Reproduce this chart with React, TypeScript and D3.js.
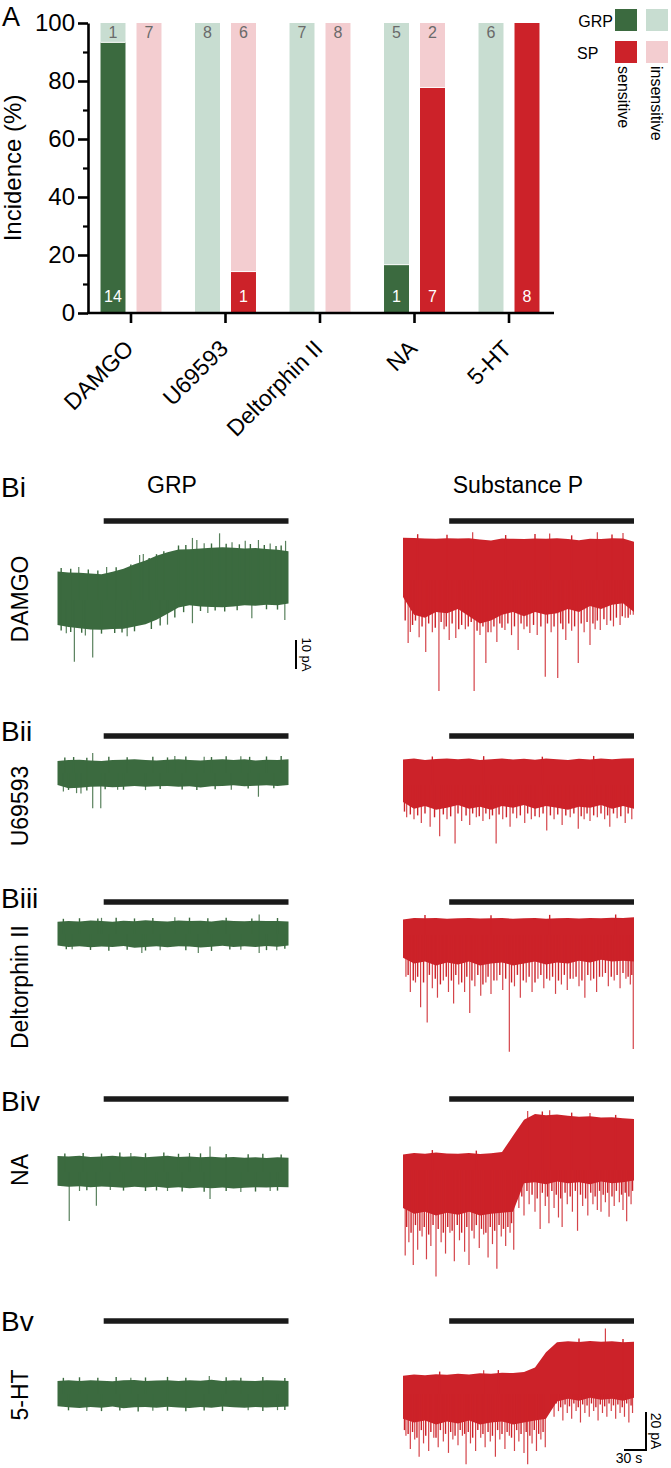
import React, { useEffect, useRef } from 'react';
import * as d3 from 'd3';

// ---- Panel A: incidence counts ----
const categories = ['DAMGO', 'U69593', 'Deltorphin II', 'NA', '5-HT'];
const grpSensitive = [14, 0, 0, 1, 0];
const grpInsensitive = [1, 8, 7, 5, 6];
const spSensitive = [0, 1, 0, 7, 8];
const spInsensitive = [7, 6, 8, 2, 0];
const yTicks = [0, 20, 40, 60, 80, 100];
const yMinorTicks = [10, 30, 50, 70, 90];

// ---- Panel B: example traces (pA) ----
const rowLabels = ['Bi', 'Bii', 'Biii', 'Biv', 'Bv'];
const traceTimes = [0, 15, 30, 45, 60, 75, 90, 105, 120, 135, 150, 165, 180, 195, 210, 225, 240, 255, 270, 285, 300, 315];
const drugOnset = 63;
const traceEnd = 315;

const grpUpper = [
  [9.8, 9.5, 9.4, 9.1, 8.9, 9.7, 10.8, 12.3, 13.6, 15.3, 16.5, 17.4, 17.5, 17.8, 18.0, 18.2, 18.0, 17.8, 17.9, 17.6, 17.3, 16.8],
  [6.3, 6.8, 7.0, 6.6, 6.3, 6.8, 7.0, 7.2, 6.8, 6.6, 7.0, 7.2, 6.8, 6.6, 7.0, 7.3, 6.9, 7.2, 6.6, 7.0, 6.8, 7.3],
  [6.5, 6.9, 6.6, 7.1, 6.8, 6.5, 7.0, 6.7, 7.2, 6.9, 6.6, 7.1, 6.8, 7.0, 6.6, 7.2, 6.9, 6.7, 7.0, 6.8, 6.9, 6.6],
  [8.4, 8.1, 8.5, 7.9, 8.2, 8.6, 8.0, 8.3, 7.8, 8.2, 8.5, 7.9, 8.1, 7.7, 8.0, 7.6, 7.9, 7.5, 7.8, 7.4, 7.7, 7.5],
  [6.8, 7.2, 6.9, 7.3, 7.0, 6.7, 7.2, 7.4, 6.9, 7.1, 7.3, 6.8, 7.2, 7.0, 7.5, 6.9, 7.2, 7.0, 6.8, 7.3, 7.1, 6.9],
];
const grpLower = [
  [-8.6, -9.3, -9.7, -10.2, -10.3, -10.0, -9.9, -9.1, -8.4, -6.8, -4.7, -2.6, -1.8, -2.2, -2.4, -2.5, -2.2, -1.8, -2.0, -1.6, -1.8, -1.2],
  [-6.3, -8.0, -7.8, -7.3, -7.1, -7.5, -7.2, -6.9, -7.3, -7.0, -6.8, -7.3, -7.0, -7.6, -7.0, -6.8, -6.5, -7.0, -6.7, -6.5, -6.8, -6.3],
  [-6.0, -6.8, -6.4, -7.0, -6.6, -6.9, -6.3, -7.2, -6.8, -6.5, -7.0, -6.4, -6.6, -7.1, -6.7, -6.2, -6.8, -6.5, -6.9, -6.3, -6.7, -6.1],
  [-7.2, -7.8, -7.5, -8.0, -7.6, -7.9, -8.3, -7.7, -8.1, -7.8, -8.4, -8.0, -8.6, -8.2, -8.5, -8.1, -8.7, -8.3, -8.0, -8.2, -7.9, -8.0],
  [-6.5, -7.0, -7.4, -6.8, -7.2, -6.6, -7.5, -7.0, -6.9, -7.3, -6.7, -7.1, -7.4, -6.8, -7.2, -6.6, -7.0, -7.3, -6.8, -7.1, -6.9, -6.6],
];
const spUpper = [
  [14.6, 14.5, 14.3, 14.2, 14.4, 14.3, 14.4, 14.0, 13.6, 14.3, 14.2, 14.1, 14.3, 14.2, 14.4, 14.1, 13.7, 14.2, 14.1, 14.4, 14.3, 13.2],
  [13.4, 13.9, 13.2, 13.7, 14.0, 13.5, 13.9, 13.2, 13.6, 14.0, 13.4, 13.8, 13.3, 13.9, 13.5, 13.1, 13.8, 13.4, 14.0, 13.6, 13.9, 14.1],
  [8.2, 8.9, 8.8, 8.9, 8.6, 8.8, 9.0, 8.7, 8.8, 8.9, 8.6, 8.8, 9.0, 8.6, 8.8, 8.9, 8.7, 9.0, 8.8, 9.1, 8.9, 9.3],
  [8.2, 9.0, 8.6, 9.2, 8.7, 8.5, 8.9, 8.4, 8.8, 9.5, 18.0, 26.5, 29.5, 28.8, 29.2, 28.5, 28.0, 28.3, 27.6, 27.8, 27.2, 26.8],
  [9.6, 10.2, 9.9, 10.4, 10.1, 10.6, 10.3, 10.9, 10.6, 11.2, 11.0, 11.6, 14.0, 22.0, 27.2, 27.8, 27.4, 27.9, 27.5, 27.8, 27.2, 27.5],
];
const spLower = [
  [-5.9, -12, -13, -11, -11.5, -10, -12.5, -15, -14, -12, -11, -12.5, -11, -12, -11.5, -10, -11, -9, -10, -8.5, -8, -11],
  [-9, -12.5, -11, -13, -12, -10.5, -12.5, -11.5, -13, -11, -12, -10.5, -12.5, -11, -12, -13, -11.5, -12, -10.5, -12.5, -11, -12.5],
  [-12, -15, -14, -16, -14.5, -15.5, -14, -16, -15, -14.5, -16, -15, -14, -15.5, -14.5, -15, -13.5, -14.5, -13, -14, -13.5, -14],
  [-20, -23, -22, -24, -22.5, -23.5, -22, -24, -23, -22.5, -22, -7, -6.5, -7.5, -6, -7, -6.5, -7.5, -6, -7, -6.5, -5.5],
  [-13, -15, -14, -16, -14.5, -15.5, -14, -16, -15, -14.5, -16, -15, -14, -13, -4, -2.5, -3.5, -2, -3, -2.5, -3.5, -2],
];
// spikes: [time s, amplitude pA]
const grpSpikes = [
  [[23, -21.3], [48, -19.8], [12, -11.5], [38, -12.2], [95, -12.5], [29, 11.4], [67, 11.4], [112, 15.5], [117, 15.9], [150, -8.5], [184, 21.4], [190, 20.7], [200, 19.6], [221, 23], [238, 19.9], [256, 20.4], [274, 20.7], [290, 19.5], [311, 20.4], [184, -8], [205, -4.5], [265, -6.3], [310, -6.9]],
  [[48, -18.5], [48, 10.5], [59, -18.5], [274, -12.5], [8, -9.8], [26, -10.6], [32, -10.8], [82, -8.8], [120, -9], [237, -8.8], [160, 9], [200, 8.6], [250, 8.8]],
  [[275, 10.3], [275, -10], [192, -10], [115, -10], [299, -8.6], [250, -8.3], [20, -8], [160, 8.8], [60, 8.5], [140, -8.6]],
  [[16, -25.8], [53, -17.7], [208, 13.4], [208, -14.2], [72, -9.5], [30, -10], [100, 10], [150, -10], [250, -10.5], [180, 10], [290, -10]],
  [[207, 9.5], [40, -9], [130, -8.8], [260, -8.6], [100, 8.6], [300, -8.5]],
];
// short ragged ticks along the GRP band edges
const grpFringe = [
  [[5, 11], [18, 10.8], [42, 10.5], [55, 10.2], [80, 11.3], [100, 12.2], [125, 14.5], [135, 15.8], [145, 16.8], [165, 18.8], [175, 19], [210, 19.5], [230, 19.4], [248, 19.2], [263, 19.3], [282, 19], [298, 18.6], [305, 18.8], [5, -10.5], [18, -11], [33, -11.3], [60, -11.6], [78, -11.4], [88, -11.2], [105, -10.8], [128, -10], [140, -8.8], [160, -6], [172, -4.2], [195, -3.8], [215, -3.6], [228, -4], [245, -3.5], [285, -3.2], [300, -3.3]],
  [[10, 8.2], [22, 8.4], [40, 8], [70, 8.5], [95, 8.3], [130, 8.6], [150, 8.2], [175, 8.7], [210, 8.4], [230, 8.8], [262, 8.5], [285, 8.7], [305, 8.9], [15, -8.9], [40, -9.2], [65, -8.6], [90, -8.8], [140, -8.4], [170, -8.7], [190, -8.9], [215, -8.5], [260, -8.2], [295, -8]],
  [[8, 8], [30, 8.3], [55, 8.1], [80, 8.5], [105, 8.2], [130, 8.4], [180, 8.6], [205, 8.3], [230, 8.5], [265, 8.2], [300, 8.4], [12, -8], [45, -8.4], [70, -8.8], [95, -8.3], [120, -8.7], [175, -8.5], [210, -8.9], [235, -8.2], [285, -8.5], [310, -7.8]],
  [[10, 9.8], [35, 10], [60, 9.7], [85, 10.2], [120, 9.9], [145, 10.3], [165, 9.6], [195, 9.8], [230, 9.5], [260, 9.4], [280, 9.6], [305, 9.2], [40, -9.6], [90, -9.8], [120, -10], [135, -9.7], [170, -10.2], [200, -10.4], [230, -10], [270, -10.3], [300, -9.8]],
  [[8, 8.5], [30, 8.8], [55, 8.6], [80, 8.9], [120, 8.7], [150, 9], [175, 8.6], [230, 8.8], [250, 8.5], [280, 8.9], [310, 8.4], [15, -8.6], [60, -9], [85, -8.7], [110, -9.2], [150, -8.8], [175, -9.1], [200, -8.7], [225, -9], [280, -8.9], [310, -8.4]],
];
const spSpikes = [
  [[7, -21.7], [10, -17.9], [22, -19.7], [31, -24.8], [40, -18], [49, -38.3], [56, -17], [63, -20.7], [72, -20], [85, -17], [97, -38.3], [105, -19], [113, -28.6], [120, -18], [128, -21.4], [139, -17.2], [148, -19], [157, -24.1], [165, -17], [173, -18.3], [183, -19], [194, -33.4], [202, -18], [211, -33.8], [222, -20.7], [230, -17.5], [239, -28.6], [247, -18], [255, -22.4], [262, -17], [269, -17.2], [278, -15.5], [287, -16], [296, -15.5], [303, -13], [310, -12], [314, -12], [95, 16.5], [200, 16], [265, 16.5], [300, 16.2]],
  [[5, -17], [15, -18], [25, -20], [37, -22], [50, -27], [60, -18], [71, -30.8], [80, -19], [91, -21], [100, -17], [109, -19], [118, -18], [127, -30.8], [136, -18], [146, -22], [155, -17.5], [166, -20], [175, -18], [186, -17], [196, -24], [206, -18], [217, -21], [228, -17], [239, -23], [247, -18], [255, -19], [265, -17], [275, -18], [282, -22], [292, -17.5], [303, -20], [312, -18]],
  [[4, -22], [10, -30], [17, -25], [24, -38], [33, -46], [40, -28], [47, -33], [55, -24], [62, -30], [69, -36], [76, -26], [84, -30], [91, -41], [98, -27], [106, -32], [113, -25], [120, -31], [128, -24], [136, -29], [145, -61.5], [152, -27], [160, -33], [168, -25], [176, -30], [184, -23], [192, -28], [200, -24], [208, -31], [216, -26], [224, -29], [232, -23], [240, -27], [248, -33], [256, -24], [264, -30], [272, -22], [280, -27], [288, -24], [296, -28], [304, -23], [310, -26], [314, -60]],
  [[3, -45], [8, -38], [14, -50], [20, -42], [26, -35], [32, -47], [38, -40], [45, -56], [52, -38], [58, -44], [64, -33], [70, -48], [77, -37], [84, -43], [90, -50], [97, -36], [104, -41], [110, -34], [116, -46], [122, -39], [128, -52], [134, -35], [140, -40], [146, -33], [151, -42], [158, -20], [165, -24], [172, -18], [180, -22], [187, -31], [194, -19], [199, -28], [206, -20], [212, -25], [217, -30], [224, -18], [231, -22], [238, -32], [245, -19], [252, -24], [259, -18], [265, -21], [270, -22], [276, -17], [281, -24.6], [288, -19], [295, -17], [300, -21], [305, -27], [311, -18], [170, 31], [200, 31.5], [255, 30]],
  [[4, -22], [10, -29], [16, -24], [22, -33], [28, -26], [35, -30], [42, -23], [48, -28], [55, -25], [62, -31], [68, -24], [75, -27], [81, -22], [86, -37], [92, -26], [99, -30], [106, -23], [112, -28], [119, -25], [126, -33], [132, -24], [139, -29], [145, -22], [152, -30], [158, -25], [165, -31], [170, -37], [176, -26], [182, -30], [188, -24], [194, -28], [200, -8], [206, -12], [212, -9], [218, -14], [224, -10], [230, -13], [236, -9], [242, -15], [248, -10], [254, -12], [260, -9], [266, -14], [272, -10], [278, -12], [284, -9], [290, -13], [296, -10], [302, -12], [308, -15], [313, -10], [276, 34.5], [110, 12.5]],
];
// short events that make the ragged fringe of the SP traces
const spFringe = [
  [[3, -14], [13, -15.5], [17, -14], [26, -16], [35, -15], [44, -16.5], [52, -14.5], [59, -16], [67, -15], [76, -17], [80, -15.5], [89, -16], [93, -14.5], [101, -17.5], [109, -16], [116, -18], [124, -16], [132, -15], [135, -16.5], [143, -15], [152, -16], [161, -15], [169, -16], [178, -15.5], [188, -16], [197, -15], [206, -16], [215, -15], [218, -17], [226, -15], [234, -16], [243, -15], [251, -14.5], [259, -15], [265, -14], [274, -13.5], [283, -14], [291, -13], [299, -12.5], [307, -13], [20, 15.8], [60, 15.6], [140, 15.5], [180, 15.9], [230, 15.4], [285, 15.7]],
  [[2, -14], [10, -15.5], [20, -16], [30, -15], [43, -17], [55, -15.5], [65, -16.5], [75, -15], [86, -16], [95, -15], [104, -16.5], [113, -15], [122, -16], [131, -15.5], [141, -17], [150, -15], [160, -16], [170, -15], [180, -16.5], [191, -15], [201, -16], [211, -15.5], [222, -16], [233, -15], [243, -16.5], [251, -15], [260, -16], [270, -15], [279, -16], [287, -15], [297, -16.5], [307, -15], [40, 15], [110, 15.2], [190, 14.9], [260, 15.3]],
  [[7, -21], [14, -24], [20, -22], [28, -25], [36, -21], [44, -23], [51, -26], [59, -22], [66, -24], [72, -21], [80, -25], [87, -22], [94, -24], [102, -21], [109, -26], [116, -22], [124, -24], [132, -21], [140, -23], [148, -25], [156, -21], [164, -24], [172, -22], [180, -25], [188, -21], [196, -23], [204, -22], [212, -24], [220, -21], [228, -23], [236, -22], [244, -24], [252, -21], [260, -23], [268, -22], [276, -20], [284, -22], [292, -21], [300, -20], [307, -22], [312, -21], [30, 10.5], [120, 10.4], [200, 10.6], [290, 10.8]],
  [[5, -30], [11, -33], [17, -29], [23, -32], [29, -30], [35, -34], [41, -29], [48, -31], [55, -33], [61, -30], [67, -32], [74, -29], [80, -33], [87, -30], [94, -32], [100, -29], [107, -31], [113, -33], [119, -30], [125, -32], [131, -29], [137, -31], [143, -30], [148, -28], [155, -12], [162, -14], [169, -11], [176, -13], [183, -15], [190, -12], [197, -14], [203, -11], [209, -13], [215, -15], [221, -12], [228, -14], [235, -11], [242, -13], [249, -15], [256, -12], [262, -14], [268, -11], [273, -13], [279, -12], [285, -14], [291, -11], [298, -13], [303, -12], [308, -14], [313, -11], [40, 10.5], [100, 10.2], [190, 30.8], [230, 30.2], [290, 29]],
  [[2, -19], [7, -21], [13, -20], [19, -23], [25, -19], [31, -22], [38, -20], [45, -23], [51, -19], [58, -21], [65, -20], [71, -22], [78, -19], [84, -21], [89, -20], [95, -23], [102, -19], [109, -21], [116, -20], [122, -22], [129, -19], [135, -21], [142, -20], [148, -23], [155, -19], [161, -21], [168, -20], [173, -22], [179, -19], [185, -21], [191, -20], [203, -6], [209, -5], [215, -7], [221, -5.5], [227, -6.5], [233, -5], [239, -7], [245, -5.5], [251, -6], [257, -5], [263, -7], [269, -5.5], [275, -6.5], [281, -5], [287, -6], [293, -5.5], [299, -7], [305, -5], [311, -6], [50, 11.8], [130, 12.6], [240, 29.2], [300, 29]],
];

const FONT = "'Liberation Sans', Arial, Helvetica, sans-serif";
const COLORS: Record<string, { dark: string; light: string }> = {
  GRP: { dark: '#3b6a3f', light: '#c8ddd1' },
  SP: { dark: '#cc2229', light: '#f3cdd0' },
};

const W = 671;
const H = 1468;

const App: React.FC = () => {
  const svgRef = useRef<SVGSVGElement>(null);

  useEffect(() => {
    if (!svgRef.current) return;
    const svg = d3.select(svgRef.current);
    svg.selectAll('*').remove();

    // ================= Panel A =================
    const gA = svg.append('g');
    const y = d3.scaleLinear().domain([0, 100]).range([313, 23]);
    const x = d3.scaleBand().domain(categories).range([83.75, 556.25]);
    const sub = d3.scaleBand().domain(['GRP', 'SP']).range([0, x.bandwidth()])
      .paddingInner(0.306).paddingOuter(0.466);

    const bars = categories.flatMap((c, i) => [
      { cat: c, type: 'GRP', sens: grpSensitive[i], ins: grpInsensitive[i] },
      { cat: c, type: 'SP', sens: spSensitive[i], ins: spInsensitive[i] },
    ]);

    bars.forEach(d => {
      const pct = (d.sens / (d.sens + d.ins)) * 100;
      const bx = (x(d.cat) || 0) + (sub(d.type) || 0);
      const bw = sub.bandwidth();
      const col = COLORS[d.type];
      gA.append('rect')
        .attr('x', bx).attr('y', y(100)).attr('width', bw)
        .attr('height', y(pct) - y(100)).attr('fill', col.light);
      gA.append('rect')
        .attr('x', bx).attr('y', y(pct)).attr('width', bw)
        .attr('height', y(0) - y(pct)).attr('fill', col.dark);
      if (d.sens > 0 && d.ins > 0) {
        gA.append('line')
          .attr('x1', bx).attr('x2', bx + bw).attr('y1', y(pct)).attr('y2', y(pct))
          .attr('stroke', '#fff').attr('stroke-width', 1);
      }
      if (d.ins > 0) {
        gA.append('text')
          .attr('x', bx + bw / 2).attr('y', 38)
          .attr('text-anchor', 'middle').attr('font-family', FONT).attr('font-size', 16)
          .attr('fill', '#6a6a6a').text(d.ins);
      }
      if (d.sens > 0) {
        gA.append('text')
          .attr('x', bx + bw / 2).attr('y', 302)
          .attr('text-anchor', 'middle').attr('font-family', FONT).attr('font-size', 16)
          .attr('fill', '#fff').text(d.sens);
      }
    });

    // Y axis
    const yAxis = gA.append('g')
      .attr('transform', 'translate(88,0)')
      .call(d3.axisLeft(y).tickValues(yTicks).tickSize(10).tickSizeOuter(0).tickPadding(3));
    yAxis.attr('font-family', FONT).attr('font-size', 24);
    yAxis.select('.domain').attr('stroke-width', 2.6);
    yAxis.selectAll('.tick line').attr('stroke-width', 2.6);
    yAxis.selectAll('.tick text').attr('fill', '#000');

    const yMinor = gA.append('g')
      .attr('transform', 'translate(88,0)')
      .call(d3.axisLeft(y).tickValues(yMinorTicks).tickSize(5).tickFormat(() => ''));
    yMinor.select('.domain').remove();
    yMinor.selectAll('.tick line').attr('stroke-width', 2.2);

    gA.append('text')
      .attr('transform', `translate(21,${(y(0) + y(100)) / 2}) rotate(-90)`)
      .attr('text-anchor', 'middle').attr('font-family', FONT).attr('font-size', 24)
      .text('Incidence (%)');

    // X axis
    const xAxis = gA.append('g')
      .attr('transform', `translate(0,${y(0)})`)
      .call(d3.axisBottom(x).tickSize(10).tickSizeOuter(0));
    xAxis.attr('font-family', FONT).attr('font-size', 23);
    xAxis.select('.domain').remove();
    xAxis.selectAll('.tick line').attr('stroke-width', 2.6);
    xAxis.selectAll('.tick text')
      .attr('x', 0).attr('y', 0).attr('dy', null)
      .attr('text-anchor', 'end').attr('fill', '#000')
      .attr('transform', 'translate(4,37) rotate(-45)');
    gA.append('line')
      .attr('x1', 87).attr('x2', 554).attr('y1', y(0)).attr('y2', y(0))
      .attr('stroke', '#000').attr('stroke-width', 2.6);

    gA.append('text')
      .attr('x', 2).attr('y', 26).attr('font-family', FONT).attr('font-size', 27)
      .text('A');

    // Legend
    const legend = gA.append('g');
    const legendRows = [{ key: 'GRP', y: 9 }, { key: 'SP', y: 41 }];
    legendRows.forEach(r => {
      legend.append('rect').attr('x', 615).attr('y', r.y).attr('width', 22).attr('height', 22)
        .attr('fill', COLORS[r.key].dark);
      legend.append('rect').attr('x', 646).attr('y', r.y).attr('width', 22).attr('height', 22)
        .attr('fill', COLORS[r.key].light);
    });
    legend.append('text').attr('x', 613).attr('y', 27).attr('text-anchor', 'end')
      .attr('font-family', FONT).attr('font-size', 16).text('GRP');
    legend.append('text').attr('x', 577).attr('y', 59)
      .attr('font-family', FONT).attr('font-size', 16).text('SP');
    legend.append('text').attr('transform', 'translate(618,66) rotate(90)')
      .attr('font-family', FONT).attr('font-size', 16).text('sensitive');
    legend.append('text').attr('transform', 'translate(651,66) rotate(90)')
      .attr('font-family', FONT).attr('font-size', 16).text('insensitive');

    // ================= Panel B =================
    const gB = svg.append('g');
    const barY = [521, 736, 902, 1099, 1321];
    const labelBaseline = [497, 741, 908, 1111, 1331];
    const drugLabelY = [599, 806, 987, 1170, 1395];
    const grpRef = [600, 773, 934, 1172, 1394];
    const spRef = [580, 785, 935, 1170, 1394];
    const pxPerPA = [2.9, 1.9, 1.9, 1.9, 1.9];
    const grpX0 = 57.5;
    const spX0 = 403;
    const traceW = 231;

    gB.append('text').attr('x', 172).attr('y', 493).attr('text-anchor', 'middle')
      .attr('font-family', FONT).attr('font-size', 23).text('GRP');
    gB.append('text').attr('x', 518).attr('y', 493).attr('text-anchor', 'middle')
      .attr('font-family', FONT).attr('font-size', 23).text('Substance P');

    rowLabels.forEach((lab, r) => {
      gB.append('text').attr('x', 1).attr('y', labelBaseline[r])
        .attr('font-family', FONT).attr('font-size', 28).text(lab);
      gB.append('text')
        .attr('transform', `translate(28,${drugLabelY[r]}) rotate(-90)`)
        .attr('text-anchor', 'middle').attr('font-family', FONT).attr('font-size', 23)
        .text(categories[r]);

      const traces = [
        { type: 'GRP', x0: grpX0, ref: grpRef[r], up: grpUpper[r], lo: grpLower[r], spikes: grpSpikes[r], fringe: grpFringe[r] },
        { type: 'SP', x0: spX0, ref: spRef[r], up: spUpper[r], lo: spLower[r], spikes: spSpikes[r], fringe: spFringe[r] },
      ];

      traces.forEach(tr => {
        const xs = d3.scaleLinear().domain([0, traceEnd]).range([tr.x0, tr.x0 + traceW]);
        const ys = d3.scaleLinear().domain([0, 1]).range([tr.ref, tr.ref - pxPerPA[r]]);
        const color = COLORS[tr.type].dark;

        const area = d3.area<number>()
          .x((_, i) => xs(traceTimes[i]))
          .y0((_, i) => ys(tr.lo[i]))
          .y1(d => ys(d));
        gB.append('path').datum(tr.up).attr('d', area).attr('fill', color);

        gB.selectAll(null)
          .data(tr.fringe)
          .enter().append('line')
          .attr('x1', d => xs(d[0])).attr('x2', d => xs(d[0]))
          .attr('y1', ys(0)).attr('y2', d => ys(d[1]))
          .attr('stroke', color).attr('stroke-width', 1.4);

        gB.selectAll(null)
          .data(tr.spikes)
          .enter().append('line')
          .attr('x1', d => xs(d[0])).attr('x2', d => xs(d[0]))
          .attr('y1', ys(0)).attr('y2', d => ys(d[1]))
          .attr('stroke', color).attr('stroke-width', 1.2).attr('stroke-opacity', 0.85);

        gB.append('line')
          .attr('x1', xs(drugOnset)).attr('x2', xs(traceEnd))
          .attr('y1', barY[r]).attr('y2', barY[r])
          .attr('stroke', '#1a1a1a').attr('stroke-width', 5.5);
      });
    });

    // Scale bars
    const sb1 = gB.append('g');
    sb1.append('line').attr('x1', 296).attr('x2', 296).attr('y1', 669).attr('y2', 669 - 10 * pxPerPA[0])
      .attr('stroke', '#000').attr('stroke-width', 2);
    sb1.append('text').attr('transform', `translate(302,${669 - 5 * pxPerPA[0]}) rotate(90)`)
      .attr('text-anchor', 'middle').attr('font-family', FONT).attr('font-size', 13).text('10 pA');

    const pxPerS = traceW / traceEnd;
    const sb2 = gB.append('g');
    sb2.append('path')
      .attr('d', `M646,${1450 - 20 * pxPerPA[4]}V1450H${646 - 30 * pxPerS}`)
      .attr('fill', 'none').attr('stroke', '#000').attr('stroke-width', 2);
    sb2.append('text').attr('transform', `translate(651,${1450 - 10 * pxPerPA[4]}) rotate(90)`)
      .attr('text-anchor', 'middle').attr('font-family', FONT).attr('font-size', 14).text('20 pA');
    sb2.append('text').attr('x', 629).attr('y', 1463).attr('text-anchor', 'middle')
      .attr('font-family', FONT).attr('font-size', 14).text('30 s');
  }, []);

  return (
    <div style={{ position: 'absolute', left: 0, top: 0, background: '#fff' }}>
      <svg ref={svgRef} width={W} height={H}></svg>
    </div>
  );
};

export default App;
